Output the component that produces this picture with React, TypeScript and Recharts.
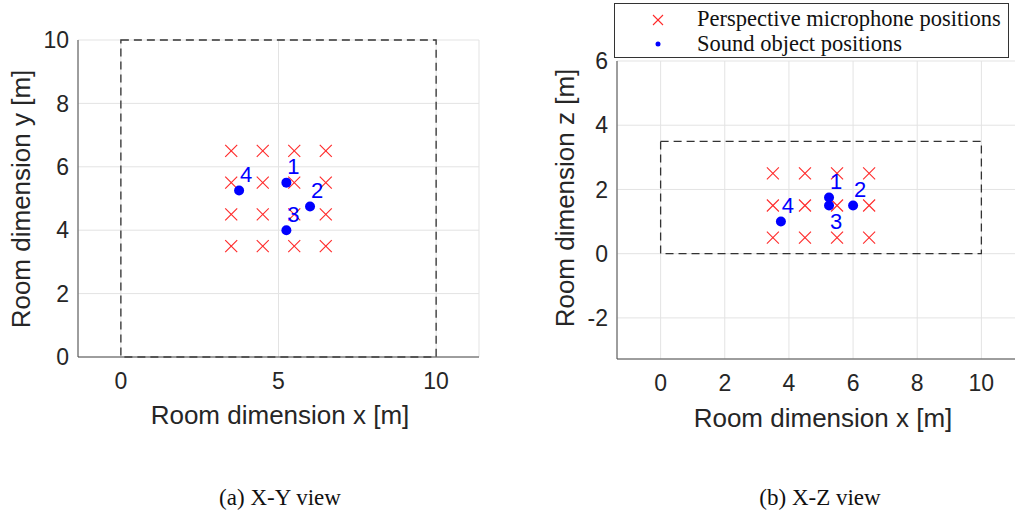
import React from "react";
import {
  CartesianGrid,
  ReferenceArea,
  Scatter,
  ScatterChart,
  XAxis,
  YAxis,
} from "recharts";

// microphone grid (m)
const micX = [3.5, 4.5, 5.5, 6.5];
const micY = [3.5, 4.5, 5.5, 6.5];
const micZ = [0.5, 1.5, 2.5];

// sound objects
const srcIds = ["1", "2", "3", "4"];
const srcX = [5.25, 6.0, 5.25, 3.75];
const srcY = [5.5, 4.75, 4.0, 5.25];
const srcZ = [1.75, 1.5, 1.5, 1.0];
// label above (1) or below (-1) the point, per view
const srcLabelSideXY = [1, 1, 1, 1];
const srcLabelSideXZ = [1, 1, -1, 1];

// room size
const roomX = 10;
const roomY = 10;
const roomZ = 3.5;

const xTicksA = [0, 5, 10];
const yTicksA = [0, 2, 4, 6, 8, 10];
const xTicksB = [0, 2, 4, 6, 8, 10];
const yTicksB = [-2, 0, 2, 4, 6];

const micsXY = micY.flatMap((y) => micX.map((x) => ({ x, y })));
const micsXZ = micZ.flatMap((z) => micX.map((x) => ({ x, y: z })));
const srcXY = srcIds.map((id, i) => ({ x: srcX[i], y: srcY[i], id, side: srcLabelSideXY[i] }));
const srcXZ = srcIds.map((id, i) => ({ x: srcX[i], y: srcZ[i], id, side: srcLabelSideXZ[i] }));

const SANS = "'Liberation Sans', Arial, sans-serif";
const SERIF = "'Liberation Serif', 'Times New Roman', serif";
const INK = "#262626";
const tickStyle = { fill: INK, fontSize: 23, fontFamily: SANS };

const Cross = (p: any) => {
  const { cx, cy } = p;
  const s = 6;
  return (
    <g stroke="#ff2a2a" strokeWidth={1.1}>
      <line x1={cx - s} y1={cy - s} x2={cx + s} y2={cy + s} />
      <line x1={cx - s} y1={cy + s} x2={cx + s} y2={cy - s} />
    </g>
  );
};

const Source = (p: any) => {
  const { cx, cy, payload } = p;
  return (
    <g>
      <circle cx={cx} cy={cy} r={5} fill="#0000ff" />
      <text
        x={cx + 7}
        y={cy - 16 * payload.side}
        fill="#0000ff"
        fontSize={22}
        fontFamily={SANS}
        textAnchor="middle"
        dominantBaseline="central"
      >
        {payload.id}
      </text>
    </g>
  );
};

function View({ mics, srcs, xTicks, yTicks, yDomain, roomH, margin, yWidth }: any) {
  return (
    <ScatterChart width={500} height={440} margin={margin}>
      <CartesianGrid stroke="#e3e3e3" />
      <XAxis
        type="number"
        dataKey="x"
        domain={[-1.36, 11.36]}
        allowDataOverflow
        ticks={xTicks}
        tick={tickStyle}
        tickLine={false}
        tickMargin={10}
        height={30}
        axisLine={{ stroke: "#4a4a4a" }}
      />
      <YAxis
        type="number"
        dataKey="y"
        domain={yDomain}
        allowDataOverflow
        ticks={yTicks}
        tick={tickStyle}
        tickLine={false}
        tickMargin={3}
        width={yWidth}
        axisLine={{ stroke: "#4a4a4a" }}
      />
      <ReferenceArea
        x1={0}
        x2={roomX}
        y1={0}
        y2={roomH}
        fill="none"
        stroke="#333"
        strokeWidth={1.3}
        strokeDasharray="8 5"
      />
      <Scatter data={mics} shape={Cross} isAnimationActive={false} />
      <Scatter data={srcs} shape={Source} isAnimationActive={false} />
    </ScatterChart>
  );
}

const abs = (style: React.CSSProperties): React.CSSProperties => ({
  position: "absolute",
  whiteSpace: "nowrap",
  lineHeight: 1,
  ...style,
});

export default function App() {
  return (
    <div
      style={{
        position: "absolute",
        left: 0,
        top: 0,
        width: 1015,
        height: 518,
        overflow: "hidden",
        background: "#fff",
      }}
    >
      <div style={abs({ left: 0, top: 0 })}>
        <View
          mics={micsXY}
          srcs={srcXY}
          xTicks={xTicksA}
          yTicks={yTicksA}
          yDomain={[0, 10]}
          roomH={roomY}
          yWidth={78}
          margin={{ top: 40, right: 21, bottom: 53, left: 0 }}
        />
      </div>
      <div style={abs({ left: 540, top: 0 })}>
        <View
          mics={micsXZ}
          srcs={srcXZ}
          xTicks={xTicksB}
          yTicks={yTicksB}
          yDomain={[-3.28, 6]}
          roomH={roomZ}
          yWidth={77}
          margin={{ top: 61, right: 15, bottom: 51, left: 0 }}
        />
      </div>

      {/* axis titles */}
      <div style={abs({ left: 280, top: 415, transform: "translate(-50%,-50%)", fontFamily: SANS, fontSize: 26, color: INK })}>
        Room dimension x [m]
      </div>
      <div style={abs({ left: 823, top: 418, transform: "translate(-50%,-50%)", fontFamily: SANS, fontSize: 26, color: INK })}>
        Room dimension x [m]
      </div>
      <div style={abs({ left: 21, top: 199, transform: "translate(-50%,-50%) rotate(-90deg)", fontFamily: SANS, fontSize: 26, color: INK })}>
        Room dimension y [m]
      </div>
      <div style={abs({ left: 565, top: 198, transform: "translate(-50%,-50%) rotate(-90deg)", fontFamily: SANS, fontSize: 26, color: INK })}>
        Room dimension z [m]
      </div>

      {/* legend */}
      <div
        style={abs({
          left: 614,
          top: 3,
          width: 393,
          height: 53,
          border: "1px solid #333",
          background: "#fff",
          fontFamily: SERIF,
          fontSize: 22.5,
          color: "#111",
        })}
      >
        <svg style={{ position: "absolute", left: 0, top: 0 }} width={393} height={53}>
          <g stroke="#ff2a2a" strokeWidth={1.1}>
            <line x1={38} y1={11} x2={48} y2={21} />
            <line x1={38} y1={21} x2={48} y2={11} />
          </g>
          <circle cx={43} cy={40} r={2.5} fill="#0000ff" />
        </svg>
        <div style={abs({ left: 82, top: 4 })}>Perspective microphone positions</div>
        <div style={abs({ left: 82, top: 29 })}>Sound object positions</div>
      </div>

      {/* captions */}
      <div style={abs({ left: 280, top: 497, transform: "translate(-50%,-50%)", fontFamily: SERIF, fontSize: 23, color: "#111" })}>
        (a) X-Y view
      </div>
      <div style={abs({ left: 820, top: 497, transform: "translate(-50%,-50%)", fontFamily: SERIF, fontSize: 23, color: "#111" })}>
        (b) X-Z view
      </div>
    </div>
  );
}
